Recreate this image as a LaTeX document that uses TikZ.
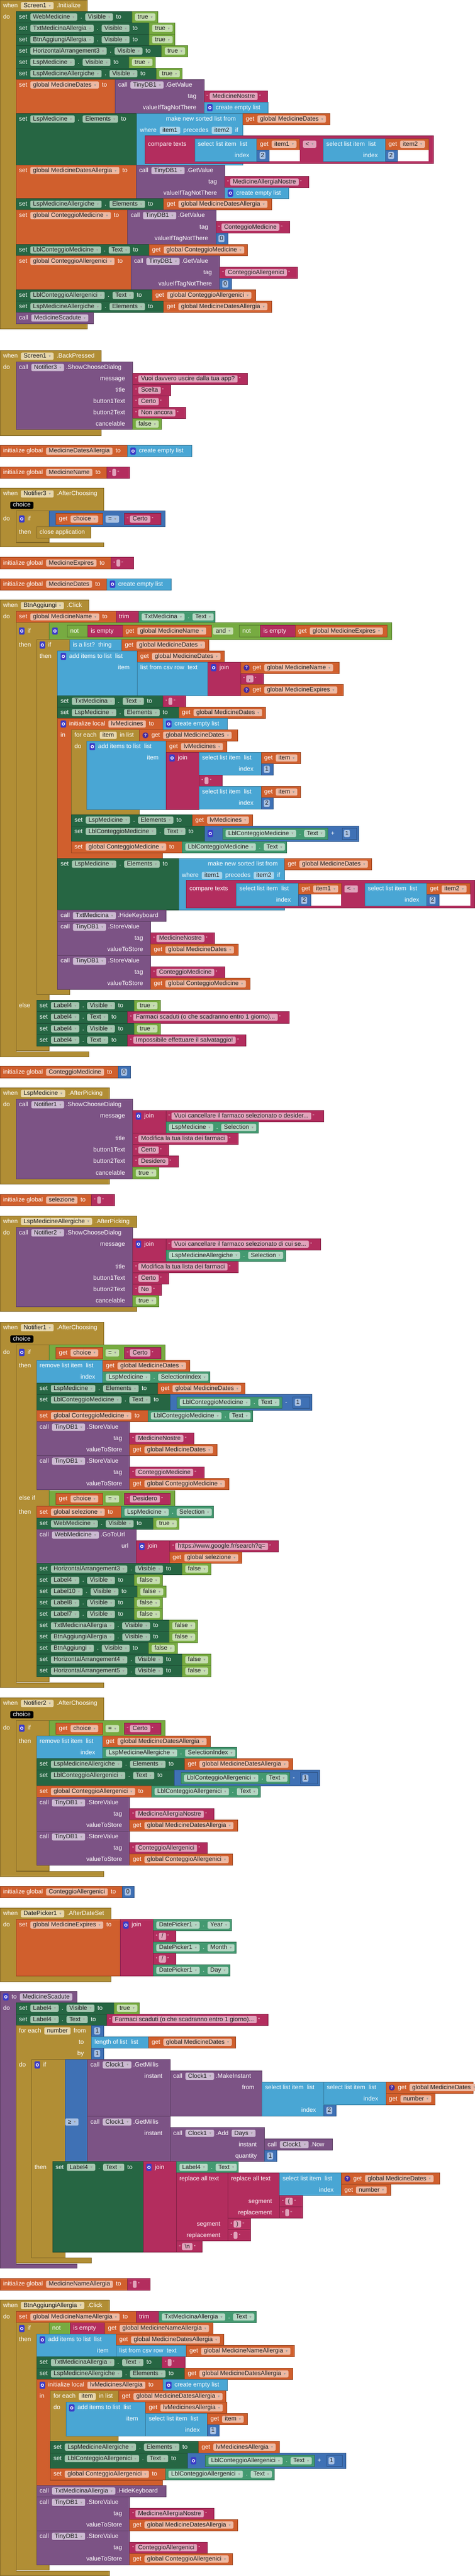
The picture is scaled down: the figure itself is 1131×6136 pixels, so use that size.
\documentclass[tikz,border=0pt]{standalone}
\usepackage{fontspec}
\setmainfont{Liberation Sans}
\newfontfamily\dv{DejaVu Sans}
\definecolor{cE}{HTML}{B18E35}
\definecolor{cEf}{HTML}{E6D6AC}
\definecolor{cS}{HTML}{266643}
\definecolor{cSf}{HTML}{A4C5AF}
\definecolor{cC}{HTML}{439970}
\definecolor{cCf}{HTML}{B4D6C3}
\definecolor{cL}{HTML}{77AB41}
\definecolor{cLf}{HTML}{C6DEB0}
\definecolor{cV}{HTML}{D05F2D}
\definecolor{cVf}{HTML}{EDB9A3}
\definecolor{cP}{HTML}{7C5385}
\definecolor{cPf}{HTML}{CBB9D1}
\definecolor{cT}{HTML}{B32D5E}
\definecolor{cTf}{HTML}{E0A3BB}
\definecolor{cLi}{HTML}{49A6D4}
\definecolor{cLif}{HTML}{A6D3EA}
\definecolor{cM}{HTML}{3F71B5}
\definecolor{cMf}{HTML}{A8C0E2}
\definecolor{cGear}{HTML}{3C3CC8}
\definecolor{cQ}{HTML}{4A2C9C}
\newcommand\bfont{\fontsize{14.6}{17}\selectfont}
\newcommand\qfont{\fontsize{11}{11}\selectfont}
\newcommand\zdd{{\dv\fontsize{6}{6}\selectfont\raisebox{1.5pt}{\textcolor{black!40}{▼}}}}
\tikzset{
 tx/.style={anchor=west,inner sep=0pt,text height=10.5pt,text depth=2.5pt,text=white,font=\bfont},
 fd/.style={anchor=west,inner xsep=6.5pt,inner ysep=2pt,text height=10.5pt,text depth=2.5pt,rounded corners=3pt,text=black!88,font=\bfont},
 gear/.style={anchor=west,fill=cGear,rounded corners=2pt,minimum width=13pt,minimum height=17pt,inner sep=0pt,
   path picture={\draw[white,line width=1.6pt] (path picture bounding box.center) circle (3pt);}},
 qmark/.style={anchor=west,circle,fill=cQ,text=white,inner sep=0pt,minimum size=14pt,font=\fontsize{10}{10}\selectfont\bfseries},
}
\newcommand\zB[5]{\path[fill=#1,draw=#1!72!black,line width=0.8pt] (#2,#3) rectangle (#4,#5);}
\newcommand\zC[9]{\path[fill=#1,draw=#1!72!black,line width=0.8pt] (#2,#3) -- (#4,#3) -- (#4,#5) -- (#6,#5) -- (#6,#7) -- (#8,#7) -- (#8,#9) -- (#2,#9) -- cycle;}
\newcommand\zS[2]{\node[inner sep=0pt,minimum size=0pt] (last) at (#1,#2) {};}
\newcommand\zT[1]{\node[tx] (last) at ([xshift=7pt]last.east) {#1};}
\newcommand\zF[2]{\node[fd,fill=#1] (last) at ([xshift=7pt]last.east) {#2\hspace{6pt}\zdd};}
\newcommand\zP[2]{\node[fd,fill=#1] (last) at ([xshift=7pt]last.east) {#2};}
\newcommand\zQ[1]{\node[tx,font=\qfont] (last) at ([xshift=6pt]last.east) {“};\node[fd,fill=cTf] (last) at ([xshift=3pt]last.east) {#1};\node[tx,font=\qfont] (last) at ([xshift=3pt]last.east) {”};}
\newcommand\zE{\node[tx,font=\qfont] (last) at ([xshift=6pt]last.east) {“};\node[fd,fill=cTf,minimum width=9pt,inner xsep=0pt] (last) at ([xshift=3pt]last.east) {};\node[tx,font=\qfont] (last) at ([xshift=3pt]last.east) {”};}
\newcommand\zG{\node[gear] (last) at ([xshift=7pt]last.east) {};}
\newcommand\zM{\node[qmark] (last) at ([xshift=7pt]last.east) {?};}
\newcommand\zR[3]{\node[tx,anchor=east] (lbl) at (#1,#2) {#3};}
\newcommand\zChoice{\node[fd,fill=black,text=white] (last) at ([xshift=7pt]last.east) {choice};}
\newcommand\zSetP[4]{\zS{#1}{#2}\zT{set}\zF{cSf}{#3}\zT{.}\zF{cSf}{#4}\zT{to}}
\newcommand\zSetG[3]{\zS{#1}{#2}\zT{set}\zF{cVf}{#3}\zT{to}}
\newcommand\zGet[3]{\zS{#1}{#2}\zT{get}\zF{cVf}{#3}}
\newcommand\zCmp[4]{\zS{#1}{#2}\zF{cCf}{#3}\zT{.}\zF{cCf}{#4}}
\newcommand\zBool[3]{\zS{#1}{#2}\zF{cLf}{#3}}
\newcommand\zStr[3]{\zS{#1}{#2}\zQ{#3}}
\newcommand\zStrE[2]{\zS{#1}{#2}\zE}
\newcommand\zNum[3]{\zS{#1}{#2}\node[fd,fill=cMf,inner xsep=3pt] (last) at ([xshift=6pt]last.east) {#3};}
\newcommand\zCall[4]{\zS{#1}{#2}\zT{call}\zF{cPf}{#3}\node[tx] (last) at ([xshift=4pt]last.east) {#4};}
\newcommand\zVis[6]{\zB{cS}{#1}{#2}{#4}{#2+27}\zB{cL}{#4}{#2}{#5}{#2+27}\zSetP{#1}{#2+13.5}{#3}{Visible}\zBool{#4}{#2+13.5}{#6}}
\newcommand\zStore[6]{%
 \zB{cP}{#1}{#2}{#1+222}{#2+81}%
 \zB{cT}{#1+222}{#2+27}{#4}{#2+54}%
 \zB{cV}{#1+222}{#2+54}{#6}{#2+81}%
 \zCall{#1}{#2+13.5}{TinyDB1}{.StoreValue}%
 \zR{#1+204}{#2+40.5}{tag}\zR{#1+204}{#2+67.5}{valueToStore}%
 \zStr{#1+222}{#2+40.5}{#3}%
 \zGet{#1+222}{#2+67.5}{#5}}
\newcommand\zCmpT[2]{%
 \zB{cT}{#1}{#2}{#1+687}{#2+66}%
 \zB{cLi}{#1+119}{#2+7}{#1+267}{#2+61}%
 \zB{cV}{#1+267}{#2+7}{#1+369}{#2+34}%
 \fill[white] (#1+296,#2+34) rectangle (#1+369,#2+61);%
 \zB{cM}{#1+267}{#2+34}{#1+296}{#2+61}%
 \zB{cLi}{#1+425}{#2+7}{#1+573}{#2+61}%
 \zB{cV}{#1+573}{#2+7}{#1+676}{#2+34}%
 \fill[white] (#1+602,#2+34) rectangle (#1+676,#2+61);%
 \zB{cM}{#1+573}{#2+34}{#1+602}{#2+61}%
 \zS{#1}{#2+20.5}\zT{compare texts}%
 \zS{#1+119}{#2+20.5}\zT{select list item\ \ list}%
 \zGet{#1+267}{#2+20.5}{item1}%
 \zS{#1+369}{#2+20.5}\zF{cTf}{<}%
 \zS{#1+425}{#2+20.5}\zT{select list item\ \ list}%
 \zGet{#1+573}{#2+20.5}{item2}%
 \zR{#1+249}{#2+47.5}{index}\zNum{#1+267}{#2+47.5}{2}%
 \zR{#1+555}{#2+47.5}{index}\zNum{#1+573}{#2+47.5}{2}}
\newcommand\zEq[4]{%
 \zB{cL}{117}{#1}{#4}{#1+37}%
 \zB{cV}{133}{#1+6}{244}{#1+33}\zGet{133}{#1+19.5}{choice}%
 \zS{244}{#1+19.5}\zF{cLf}{=}%
 \zB{cT}{296}{#1+6}{#3}{#1+33}\zStr{296}{#1+19.5}{#2}}
\begin{document}
\begin{tikzpicture}[x=1pt,y=-1pt]
\fill[white] (0,0) rectangle (1131,6136);
\useasboundingbox (0,0) rectangle (1131,6136);
% ===== Screen1.Initialize =====
\zC{cE}{0}{0}{208}{27}{38}{771}{208}{783}
\zS{0}{13.5}\zT{when}\zF{cEf}{Screen1}\zT{.Initialize}
\zS{0}{40.5}\zT{do}
\zVis{38}{27}{WebMedicine}{314}{376}{true}
\zVis{38}{54}{TxtMedicinaAllergia}{355}{416}{true}
\zVis{38}{81}{BtnAggiungiAllergia}{355}{416}{true}
\zVis{38}{108}{HorizontalArrangement3}{385}{447}{true}
\zVis{38}{135}{LspMedicine}{307}{370}{true}
\zVis{38}{162}{LspMedicineAllergiche}{372}{434}{true}
\zB{cV}{38}{189}{274}{270}\zB{cP}{274}{189}{486}{270}
\zB{cT}{486}{216}{637}{243}\zB{cLi}{486}{243}{639}{270}
\zSetG{38}{202.5}{global MedicineDates}
\zCall{274}{202.5}{TinyDB1}{.GetValue}
\zR{468}{229.5}{tag}\zR{468}{256.5}{valueIfTagNotThere}
\zStr{486}{229.5}{MedicineNostre}
\zS{486}{256.5}\zG\zT{create empty list}
\zB{cS}{38}{270}{326}{393}\zB{cLi}{326}{270}{578}{393}\zB{cV}{578}{270}{786}{297}
\zSetP{38}{283.5}{LspMedicine}{Elements}
\zR{562}{283.5}{make new sorted list from}
\zGet{578}{283.5}{global MedicineDates}
\zS{326}{310.5}\zT{where}\zP{cLif}{item1}\zT{precedes}\zP{cLif}{item2}\zT{if}
\zCmpT{345}{323}
\zB{cV}{38}{393}{324}{473}\zB{cP}{324}{393}{535}{473}
\zB{cT}{535}{420}{736}{447}\zB{cLi}{535}{447}{688}{473}
\zSetG{38}{406.5}{global MedicineDatesAllergia}
\zCall{324}{406.5}{TinyDB1}{.GetValue}
\zR{517}{433.5}{tag}\zR{517}{460}{valueIfTagNotThere}
\zStr{535}{433.5}{MedicineAllergiaNostre}
\zS{535}{460}\zG\zT{create empty list}
\zB{cS}{38}{473}{390}{500}\zB{cV}{390}{473}{647}{500}
\zSetP{38}{486.5}{LspMedicineAllergiche}{Elements}\zGet{390}{486.5}{global MedicineDatesAllergia}
\zB{cV}{38}{500}{304}{582}\zB{cP}{304}{500}{514}{582}
\zB{cT}{514}{527}{690}{555}\zB{cM}{514}{555}{543}{582}
\zSetG{38}{513.5}{global ConteggioMedicine}
\zCall{304}{513.5}{TinyDB1}{.GetValue}
\zR{496}{541}{tag}\zR{496}{568.5}{valueIfTagNotThere}
\zStr{514}{541}{ConteggioMedicine}\zNum{514}{568.5}{0}
\zB{cS}{38}{582}{355}{609}\zB{cV}{355}{582}{590}{609}
\zSetP{38}{595.5}{LblConteggioMedicine}{Text}\zGet{355}{595.5}{global ConteggioMedicine}
\zB{cV}{38}{609}{312}{690}\zB{cP}{312}{609}{523}{690}
\zB{cT}{523}{636}{708}{663}\zB{cM}{523}{663}{552}{690}
\zSetG{38}{622.5}{global ConteggioAllergenici}
\zCall{312}{622.5}{TinyDB1}{.GetValue}
\zR{505}{649.5}{tag}\zR{505}{676.5}{valueIfTagNotThere}
\zStr{523}{649.5}{ConteggioAllergenici}\zNum{523}{676.5}{0}
\zB{cS}{38}{690}{363}{717}\zB{cV}{363}{690}{609}{717}
\zSetP{38}{703.5}{LblConteggioAllergenici}{Text}\zGet{363}{703.5}{global ConteggioAllergenici}
\zB{cS}{38}{717}{390}{744}\zB{cV}{390}{717}{647}{744}
\zSetP{38}{730.5}{LspMedicineAllergiche}{Elements}\zGet{390}{730.5}{global MedicineDatesAllergia}
\zB{cP}{38}{744}{223}{771}
\zS{38}{757.5}\zT{call}\zF{cPf}{MedicineScadute}
% ===== Screen1.BackPressed =====
\zC{cE}{0}{835}{241}{862}{38}{1023}{241}{1037}
\zS{0}{848.5}\zT{when}\zF{cEf}{Screen1}\zT{.BackPressed}
\zS{0}{875.5}\zT{do}
\zB{cP}{38}{862}{316}{1023}
\zCall{38}{875.5}{Notifier3}{.ShowChooseDialog}
\zR{298}{902.5}{message}\zR{298}{929.5}{title}\zR{298}{956.5}{button1Text}\zR{298}{983.5}{button2Text}\zR{298}{1010}{cancelable}
\zB{cT}{316}{889}{590}{916}\zStr{316}{902.5}{Vuoi davvero uscire dalla tua app?}
\zB{cT}{316}{916}{407}{943}\zStr{316}{929.5}{Scelta}
\zB{cT}{316}{943}{402}{970}\zStr{316}{956.5}{Certo}
\zB{cT}{316}{970}{442}{997}\zStr{316}{983.5}{Non ancora}
\zB{cL}{316}{997}{384}{1023}\zBool{316}{1010}{false}
% ===== globals =====
\zB{cV}{0}{1061}{303}{1088}\zB{cLi}{303}{1061}{457}{1088}
\zS{0}{1074.5}\zT{initialize global}\zP{cVf}{MedicineDatesAllergia}\zT{to}
\zS{303}{1074.5}\zG\zT{create empty list}
\zB{cV}{0}{1112}{254}{1139}\zB{cT}{254}{1112}{309}{1139}
\zS{0}{1125.5}\zT{initialize global}\zP{cVf}{MedicineName}\zT{to}\zStrE{254}{1125.5}
% ===== Notifier3.AfterChoosing =====
\zC{cE}{0}{1163}{247}{1217}{38}{1293}{247}{1303}
\zS{0}{1176.5}\zT{when}\zF{cEf}{Notifier3}\zT{.AfterChoosing}
\zS{17}{1203.5}\zChoice
\zS{0}{1236}\zT{do}
\zB{cE}{38}{1217}{117}{1291}
\zS{38}{1236}\zG\zT{if}
\zB{cM}{117}{1217}{393}{1255}
\zB{cV}{133}{1223}{244}{1250}\zGet{133}{1236.5}{choice}
\zS{244}{1236.5}\zF{cMf}{=}
\zB{cT}{296}{1223}{383}{1250}\zStr{296}{1236.5}{Certo}
\zS{38}{1268.5}\zT{then}
\zB{cE}{87}{1255}{216}{1282}\zS{87}{1268.5}\zT{close application}
\zB{cV}{0}{1327}{264}{1355}\zB{cT}{264}{1327}{318}{1355}
\zS{0}{1341}\zT{initialize global}\zP{cVf}{MedicineExpires}\zT{to}\zStrE{264}{1341}
\zB{cV}{0}{1378}{254}{1405}\zB{cLi}{254}{1378}{408}{1405}
\zS{0}{1391.5}\zT{initialize global}\zP{cVf}{MedicineDates}\zT{to}\zS{254}{1391.5}\zG\zT{create empty list}
% ===== BtnAggiungi.Click =====
\zC{cE}{0}{1429}{211}{1456}{38}{2505}{211}{2517}
\zS{0}{1442.5}\zT{when}\zF{cEf}{BtnAggiungi}\zT{.Click}
\zS{0}{1469.5}\zT{do}
\zB{cV}{38}{1456}{276}{1483}\zB{cT}{276}{1456}{330}{1483}\zB{cC}{330}{1456}{512}{1483}
\zSetG{38}{1469.5}{global MedicineName}\zS{276}{1469.5}\zT{trim}\zCmp{330}{1469.5}{TxtMedicina}{Text}
\zB{cE}{38}{1483}{117}{2503}
\zS{38}{1503}\zG\zT{if}
\zB{cL}{117}{1483}{933}{1523}
\zS{117}{1503}\zG
\zB{cL}{160}{1489}{209}{1517}\zS{160}{1503}\zT{not}
\zB{cT}{209}{1489}{292}{1517}\zS{209}{1503}\zT{is empty}
\zB{cV}{292}{1489}{503}{1517}\zGet{292}{1503}{global MedicineName}
\zS{500}{1503}\zF{cLf}{and}
\zB{cL}{570}{1489}{620}{1517}\zS{570}{1503}\zT{not}
\zB{cT}{620}{1489}{703}{1517}\zS{620}{1503}\zT{is empty}
\zB{cV}{703}{1489}{922}{1517}\zGet{703}{1503}{global MedicineExpires}
\zS{38}{1536.5}\zT{then}
\zB{cE}{87}{1523}{166}{2369}
\zS{87}{1536.5}\zG\zT{if}
\zB{cLi}{166}{1523}{290}{1550}\zS{166}{1536.5}\zT{is a list?\ \ thing}
\zB{cV}{290}{1523}{497}{1550}\zGet{290}{1536.5}{global MedicineDates}
\zS{87}{1563.5}\zT{then}
\zB{cLi}{137}{1550}{327}{1657}
\zS{137}{1563.5}\zG\zT{add items to list\ \ list}
\zB{cV}{327}{1550}{534}{1577}\zGet{327}{1563.5}{global MedicineDates}
\zR{309}{1590.5}{item}
\zB{cLi}{327}{1577}{495}{1657}\zS{327}{1590.5}\zT{list from csv row\ \ text}
\zB{cT}{495}{1577}{573}{1657}\zS{495}{1590.5}\zG\zT{join}
\zB{cV}{573}{1577}{808}{1604}\zS{573}{1590.5}\zM\zT{get}\zF{cVf}{global MedicineName}
\zB{cT}{573}{1604}{627}{1630}\zStr{573}{1617}{,}
\zB{cV}{573}{1630}{818}{1657}\zS{573}{1643.5}\zM\zT{get}\zF{cVf}{global MedicineExpires}
\zB{cS}{137}{1657}{388}{1684}\zB{cT}{388}{1657}{442}{1684}
\zSetP{137}{1670.5}{TxtMedicina}{Text}\zStrE{388}{1670.5}
\zB{cS}{137}{1684}{426}{1711}\zB{cV}{426}{1684}{633}{1711}
\zSetP{137}{1697.5}{LspMedicine}{Elements}\zGet{426}{1697.5}{global MedicineDates}
\zC{cV}{137}{1711}{388}{1738}{170}{2031}{387}{2045}
\zB{cLi}{388}{1711}{542}{1738}
\zS{137}{1724.5}\zG\zT{initialize local}\zP{cVf}{lvMedicines}\zT{to}
\zS{388}{1724.5}\zG\zT{create empty list}
\zS{137}{1751.5}\zT{in}
\zC{cE}{170}{1738}{332}{1765}{206}{1928}{332}{1940}
\zS{170}{1751.5}\zT{for each}\zP{cEf}{item}\zT{in list}
\zB{cV}{332}{1738}{566}{1765}\zS{332}{1751.5}\zM\zT{get}\zF{cVf}{global MedicineDates}
\zS{170}{1778.5}\zT{do}
\zB{cLi}{206}{1765}{396}{1928}
\zS{206}{1778.5}\zG\zT{add items to list\ \ list}
\zB{cV}{396}{1765}{540}{1792}\zGet{396}{1778.5}{lvMedicines}
\zR{378}{1805.5}{item}
\zB{cT}{396}{1792}{474}{1928}\zS{396}{1805.5}\zG\zT{join}
\zB{cLi}{474}{1792}{622}{1846}\zS{474}{1805.5}\zT{select list item\ \ list}
\zB{cV}{622}{1792}{716}{1819}\zGet{622}{1805.5}{item}
\zR{604}{1832.5}{index}\zB{cM}{622}{1819}{651}{1846}\zNum{622}{1832.5}{1}
\zB{cT}{474}{1846}{529}{1873}\zStrE{474}{1859.5}
\zB{cLi}{474}{1873}{622}{1927}\zS{474}{1886.5}\zT{select list item\ \ list}
\zB{cV}{622}{1873}{716}{1900}\zGet{622}{1886.5}{item}
\zR{604}{1913.5}{index}\zB{cM}{622}{1900}{651}{1927}\zNum{622}{1913.5}{2}
\zB{cS}{170}{1940}{458}{1967}\zB{cV}{458}{1940}{602}{1967}
\zSetP{170}{1953.5}{LspMedicine}{Elements}\zGet{458}{1953.5}{lvMedicines}
\zB{cS}{170}{1967}{487}{2004}\zB{cM}{487}{1967}{855}{2004}
\zSetP{170}{1980.5}{LblConteggioMedicine}{Text}
\zS{487}{1985.5}\zG
\zB{cC}{530}{1972}{781}{1999}\zCmp{530}{1985.5}{LblConteggioMedicine}{Text}
\zS{781}{1985.5}\zT{+}
\zB{cM}{815}{1972}{850}{1999}\zNum{813}{1985.5}{1}
\zB{cV}{170}{2004}{434}{2031}\zB{cC}{434}{2004}{683}{2031}
\zSetG{170}{2017.5}{global ConteggioMedicine}\zCmp{434}{2017.5}{LblConteggioMedicine}{Text}
\zB{cS}{137}{2045}{426}{2167}\zB{cLi}{426}{2045}{678}{2167}\zB{cV}{678}{2045}{885}{2072}
\zSetP{137}{2058.5}{LspMedicine}{Elements}
\zR{662}{2058.5}{make new sorted list from}
\zGet{678}{2058.5}{global MedicineDates}
\zS{426}{2085.5}\zT{where}\zP{cLif}{item1}\zT{precedes}\zP{cLif}{item2}\zT{if}
\zCmpT{444}{2097}
\zB{cP}{137}{2167}{395}{2195}\zS{137}{2181}\zT{call}\zF{cPf}{TxtMedicina}\node[tx] (last) at ([xshift=4pt]last.east) {.HideKeyboard};
\zStore{137}{2195}{MedicineNostre}{511}{global MedicineDates}{567}
\zStore{137}{2276}{ConteggioMedicine}{535}{global ConteggioMedicine}{595}
\zS{38}{2395.5}\zT{else}
\zVis{87}{2382}{Label4}{319}{382}{true}
\zB{cS}{87}{2409}{304}{2437}\zB{cT}{304}{2409}{689}{2437}
\zSetP{87}{2423}{Label4}{Text}\zStr{304}{2423}{Farmaci scaduti (o che scadranno entro 1 giorno)...}
\zVis{87}{2437}{Label4}{319}{382}{true}
\zB{cS}{87}{2464}{304}{2491}\zB{cT}{304}{2464}{586}{2491}
\zSetP{87}{2477.5}{Label4}{Text}\zStr{304}{2477.5}{Impossibile effettuare il salvataggio!}
\zB{cV}{0}{2540}{282}{2568}\zB{cM}{282}{2540}{311}{2568}
\zS{0}{2554}\zT{initialize global}\zP{cVf}{ConteggioMedicine}\zT{to}\zNum{282}{2554}{0}
% ===== LspMedicine.AfterPicking =====
\zC{cE}{0}{2591}{260}{2618}{38}{2808}{260}{2821}
\zS{0}{2604.5}\zT{when}\zF{cEf}{LspMedicine}\zT{.AfterPicking}
\zS{0}{2631.5}\zT{do}
\zB{cP}{38}{2618}{316}{2808}
\zCall{38}{2631.5}{Notifier1}{.ShowChooseDialog}
\zR{298}{2658.5}{message}\zR{298}{2712.5}{title}\zR{298}{2739.5}{button1Text}\zR{298}{2766.5}{button2Text}\zR{298}{2794}{cancelable}
\zB{cT}{316}{2645}{395}{2699}\zS{316}{2658.5}\zG\zT{join}
\zB{cT}{395}{2645}{771}{2672}\zStr{395}{2658.5}{Vuoi cancellare il farmaco selezionato o desider...}
\zB{cC}{395}{2672}{615}{2699}\zCmp{395}{2685.5}{LspMedicine}{Selection}
\zB{cT}{316}{2699}{567}{2726}\zStr{316}{2712.5}{Modifica la tua lista dei farmaci}
\zB{cT}{316}{2726}{402}{2753}\zStr{316}{2739.5}{Certo}
\zB{cT}{316}{2753}{425}{2780}\zStr{316}{2766.5}{Desidero}
\zB{cL}{316}{2780}{378}{2808}\zBool{316}{2794}{true}
\zB{cV}{0}{2845}{218}{2872}\zB{cT}{218}{2845}{273}{2872}
\zS{0}{2858.5}\zT{initialize global}\zP{cVf}{selezione}\zT{to}\zStrE{218}{2858.5}
% ===== LspMedicineAllergiche.AfterPicking =====
\zC{cE}{0}{2896}{325}{2923}{38}{3112}{325}{3124}
\zS{0}{2909.5}\zT{when}\zF{cEf}{LspMedicineAllergiche}\zT{.AfterPicking}
\zS{0}{2936.5}\zT{do}
\zB{cP}{38}{2923}{316}{3112}
\zCall{38}{2936.5}{Notifier2}{.ShowChooseDialog}
\zR{298}{2963.5}{message}\zR{298}{3017.5}{title}\zR{298}{3044.5}{button1Text}\zR{298}{3071.5}{button2Text}\zR{298}{3098.5}{cancelable}
\zB{cT}{316}{2950}{395}{3004}\zS{316}{2963.5}\zG\zT{join}
\zB{cT}{395}{2950}{764}{2977}\zStr{395}{2963.5}{Vuoi cancellare il farmaco selezionato di cui se...}
\zB{cC}{395}{2977}{680}{3004}\zCmp{395}{2990.5}{LspMedicineAllergiche}{Selection}
\zB{cT}{316}{3004}{567}{3031}\zStr{316}{3017.5}{Modifica la tua lista dei farmaci}
\zB{cT}{316}{3031}{402}{3058}\zStr{316}{3044.5}{Certo}
\zB{cT}{316}{3058}{385}{3085}\zStr{316}{3071.5}{No}
\zB{cL}{316}{3085}{378}{3112}\zBool{316}{3098.5}{true}
% ===== Notifier1.AfterChoosing =====
\zC{cE}{0}{3149}{247}{3203}{38}{4008}{247}{4020}
\zS{0}{3162.5}\zT{when}\zF{cEf}{Notifier1}\zT{.AfterChoosing}
\zS{17}{3189.5}\zChoice
\zS{0}{3221.5}\zT{do}
\zB{cE}{38}{3203}{117}{4006}
\zS{38}{3221.5}\zG\zT{if}
\zEq{3203}{Certo}{383}{393}
\zS{38}{3253.5}\zT{then}
\zB{cLi}{87}{3240}{245}{3294}\zS{87}{3253.5}\zT{remove list item\ \ list}\zR{227}{3280.5}{index}
\zB{cV}{245}{3240}{452}{3267}\zGet{245}{3253.5}{global MedicineDates}
\zB{cC}{245}{3267}{500}{3294}\zCmp{245}{3280.5}{LspMedicine}{SelectionIndex}
\zB{cS}{87}{3294}{376}{3321}\zB{cV}{376}{3294}{583}{3321}
\zSetP{87}{3307.5}{LspMedicine}{Elements}\zGet{376}{3307.5}{global MedicineDates}
\zB{cS}{87}{3321}{405}{3359}\zB{cM}{405}{3321}{743}{3359}
\zSetP{87}{3334.5}{LblConteggioMedicine}{Text}
\zB{cC}{421}{3327}{672}{3354}\zCmp{421}{3340.5}{LblConteggioMedicine}{Text}
\zS{672}{3340.5}\zT{-}
\zB{cM}{698}{3327}{738}{3354}\zNum{696}{3340.5}{1}
\zB{cV}{87}{3359}{352}{3386}\zB{cC}{352}{3359}{602}{3386}
\zSetG{87}{3372.5}{global ConteggioMedicine}\zCmp{352}{3372.5}{LblConteggioMedicine}{Text}
\zStore{87}{3386}{MedicineNostre}{462}{global MedicineDates}{517}
\zStore{87}{3467}{ConteggioMedicine}{486}{global ConteggioMedicine}{545}
\zS{38}{3569.5}\zT{else if}
\zEq{3551}{Desidero}{405}{416}
\zS{38}{3601.5}\zT{then}
\zB{cV}{87}{3588}{289}{3616}\zB{cC}{289}{3588}{509}{3616}
\zSetG{87}{3602}{global selezione}\zCmp{289}{3602}{LspMedicine}{Selection}
\zVis{87}{3616}{WebMedicine}{365}{426}{true}
\zB{cP}{87}{3643}{324}{3724}
\zCall{87}{3656.5}{WebMedicine}{.GoToUrl}\zR{306}{3683.5}{url}
\zB{cT}{324}{3670}{404}{3724}\zS{324}{3683.5}\zG\zT{join}
\zB{cT}{404}{3670}{663}{3697}\zStr{404}{3683.5}{https://www.google.fr/search?q=}
\zB{cV}{404}{3697}{576}{3724}\zGet{404}{3710.5}{global selezione}
\zVis{87}{3724}{HorizontalArrangement3}{434}{502}{false}
\zVis{87}{3751}{Label4}{319}{387}{false}
\zVis{87}{3778}{Label10}{327}{395}{false}
\zVis{87}{3805}{Label8}{319}{387}{false}
\zVis{87}{3832}{Label7}{319}{387}{false}
\zVis{87}{3859}{TxtMedicinaAllergia}{403}{471}{false}
\zVis{87}{3886}{BtnAggiungiAllergia}{403}{471}{false}
\zVis{87}{3913}{BtnAggiungi}{354}{422}{false}
\zVis{87}{3940}{HorizontalArrangement4}{434}{502}{false}
\zVis{87}{3967}{HorizontalArrangement5}{434}{502}{false}
% ===== Notifier2.AfterChoosing =====
\zC{cE}{0}{4044}{247}{4098}{38}{4458}{247}{4470}
\zS{0}{4057.5}\zT{when}\zF{cEf}{Notifier2}\zT{.AfterChoosing}
\zS{17}{4084.5}\zChoice
\zS{0}{4116.5}\zT{do}
\zB{cE}{38}{4098}{117}{4456}
\zS{38}{4116.5}\zG\zT{if}
\zEq{4098}{Certo}{383}{393}
\zS{38}{4148.5}\zT{then}
\zB{cLi}{87}{4135}{245}{4189}\zS{87}{4148.5}\zT{remove list item\ \ list}\zR{227}{4175.5}{index}
\zB{cV}{245}{4135}{501}{4162}\zGet{245}{4148.5}{global MedicineDatesAllergia}
\zB{cC}{245}{4162}{564}{4189}\zCmp{245}{4175.5}{LspMedicineAllergiche}{SelectionIndex}
\zB{cS}{87}{4189}{440}{4216}\zB{cV}{440}{4189}{697}{4216}
\zSetP{87}{4202.5}{LspMedicineAllergiche}{Elements}\zGet{440}{4202.5}{global MedicineDatesAllergia}
\zB{cS}{87}{4216}{415}{4254}\zB{cM}{415}{4216}{761}{4254}
\zSetP{87}{4229.5}{LblConteggioAllergenici}{Text}
\zB{cC}{431}{4222}{690}{4249}\zCmp{431}{4235.5}{LblConteggioAllergenici}{Text}
\zS{690}{4235.5}\zT{-}
\zB{cM}{716}{4222}{756}{4249}\zNum{714}{4235.5}{1}
\zB{cV}{87}{4254}{361}{4281}\zB{cC}{361}{4254}{620}{4281}
\zSetG{87}{4267.5}{global ConteggioAllergenici}\zCmp{361}{4267.5}{LblConteggioAllergenici}{Text}
\zStore{87}{4281}{MedicineAllergiaNostre}{510}{global MedicineDatesAllergia}{566}
\zStore{87}{4362}{ConteggioAllergenici}{494}{global ConteggioAllergenici}{554}
\zB{cV}{0}{4493}{291}{4520}\zB{cM}{291}{4493}{320}{4520}
\zS{0}{4506.5}\zT{initialize global}\zP{cVf}{ConteggioAllergenici}\zT{to}\zNum{291}{4506.5}{0}
% ===== DatePicker1.AfterDateSet =====
\zC{cE}{0}{4545}{264}{4572}{38}{4707}{264}{4720}
\zS{0}{4558.5}\zT{when}\zF{cEf}{DatePicker1}\zT{.AfterDateSet}
\zS{0}{4585.5}\zT{do}
\zB{cV}{38}{4572}{286}{4707}\zSetG{38}{4585.5}{global MedicineExpires}
\zB{cT}{286}{4572}{365}{4707}\zS{286}{4585.5}\zG\zT{join}
\zB{cC}{365}{4572}{551}{4599}\zCmp{365}{4585.5}{DatePicker1}{Year}
\zB{cT}{365}{4599}{419}{4626}\zStr{365}{4612.5}{/}
\zB{cC}{365}{4626}{562}{4653}\zCmp{365}{4639.5}{DatePicker1}{Month}
\zB{cT}{365}{4653}{419}{4680}\zStr{365}{4666.5}{/}
\zB{cC}{365}{4680}{548}{4707}\zCmp{365}{4693.5}{DatePicker1}{Day}
% ===== to MedicineScadute =====
\zC{cP}{0}{4743}{183}{4770}{38}{5393}{183}{5403}
\zS{0}{4756.5}\zG\zT{to}\zP{cPf}{MedicineScadute}
\zS{0}{4783.5}\zT{do}
\zVis{38}{4770}{Label4}{271}{332}{true}
\zB{cS}{38}{4797}{254}{4824}\zB{cT}{254}{4797}{639}{4824}
\zSetP{38}{4810.5}{Label4}{Text}\zStr{254}{4810.5}{Farmaci scaduti (o che scadranno entro 1 giorno)...}
\zC{cE}{38}{4824}{218}{4905}{75}{5378}{218}{5390}
\zS{38}{4837.5}\zT{for each}\zP{cEf}{number}\zT{from}
\zB{cM}{218}{4824}{247}{4851}\zNum{218}{4837.5}{1}
\zR{200}{4864.5}{to}
\zB{cLi}{218}{4851}{354}{4878}\zS{218}{4864.5}\zT{length of list\ \ list}
\zB{cV}{354}{4851}{561}{4878}\zGet{354}{4864.5}{global MedicineDates}
\zR{200}{4891.5}{by}
\zB{cM}{218}{4878}{247}{4905}\zNum{218}{4891.5}{1}
\zS{38}{4918.5}\zT{do}
\zB{cE}{75}{4905}{155}{5378}
\zS{75}{4918.5}\zG\zT{if}
\zB{cM}{155}{4905}{208}{5149}
\zS{148}{5054.5}\zF{cMf}{≥}
\zB{cP}{208}{4905}{405}{5041}
\zS{208}{4918.5}\zT{call}\zF{cPf}{Clock1}\node[tx] (last) at ([xshift=4pt]last.east) {.GetMillis};
\zR{387}{4945.5}{instant}
\zB{cP}{405}{4932}{624}{5041}
\zS{405}{4945.5}\zT{call}\zF{cPf}{Clock1}\node[tx] (last) at ([xshift=4pt]last.east) {.MakeInstant};
\zR{606}{4972.5}{from}
\zB{cLi}{624}{4959}{771}{5041}\zS{624}{4972.5}\zT{select list item\ \ list}\zR{753}{5027}{index}
\zB{cM}{771}{5013}{800}{5041}\zNum{771}{5027}{2}
\zB{cLi}{771}{4959}{919}{5013}\zS{771}{4972.5}\zT{select list item\ \ list}\zR{901}{4999.5}{index}
\zB{cV}{919}{4959}{1127}{4986}\zS{919}{4972.5}\zM\zT{get}\zF{cVf}{global MedicineDates}
\zB{cV}{919}{4986}{1036}{5013}\zGet{919}{4999.5}{number}
\zB{cP}{208}{5041}{405}{5149}
\zS{208}{5054.5}\zT{call}\zF{cPf}{Clock1}\node[tx] (last) at ([xshift=4pt]last.east) {.GetMillis};
\zR{387}{5081.5}{instant}
\zB{cP}{405}{5068}{630}{5149}
\zS{405}{5081.5}\zT{call}\zF{cPf}{Clock1}\node[tx] (last) at ([xshift=4pt]last.east) {.Add};\zF{cPf}{Days}
\zR{612}{5108.5}{instant}\zR{612}{5135.5}{quantity}
\zB{cP}{630}{5095}{792}{5122}\zS{630}{5108.5}\zT{call}\zF{cPf}{Clock1}\node[tx] (last) at ([xshift=4pt]last.east) {.Now};
\zB{cM}{630}{5122}{659}{5149}\zNum{630}{5135.5}{1}
\zS{75}{5162.5}\zT{then}
\zB{cS}{125}{5149}{341}{5365}
\zSetP{125}{5162.5}{Label4}{Text}
\zB{cT}{341}{5149}{420}{5365}\zS{341}{5162.5}\zG\zT{join}
\zB{cC}{420}{5149}{567}{5176}\zCmp{420}{5162.5}{Label4}{Text}
\zB{cT}{420}{5176}{543}{5338}\zS{420}{5189.5}\zT{replace all text}
\zR{525}{5297.5}{segment}\zR{525}{5324.5}{replacement}
\zB{cT}{543}{5176}{666}{5284}\zS{543}{5189.5}\zT{replace all text}
\zR{648}{5243.5}{segment}\zR{648}{5270.5}{replacement}
\zB{cLi}{666}{5176}{813}{5230}\zS{666}{5189.5}\zT{select list item\ \ list}\zR{795}{5216.5}{index}
\zB{cV}{813}{5176}{1047}{5203}\zS{813}{5189.5}\zM\zT{get}\zF{cVf}{global MedicineDates}
\zB{cV}{813}{5203}{930}{5230}\zGet{813}{5216.5}{number}
\zB{cT}{666}{5230}{721}{5257}\zStr{666}{5243.5}{(}
\zB{cT}{666}{5257}{721}{5284}\zStrE{666}{5270.5}
\zB{cT}{543}{5284}{597}{5311}\zStr{543}{5297.5}{)}
\zB{cT}{543}{5311}{597}{5338}\zStrE{543}{5324.5}
\zB{cT}{420}{5338}{482}{5365}\zStr{420}{5351.5}{\textbackslash n}
\zB{cV}{0}{5427}{303}{5455}\zB{cT}{303}{5427}{357}{5455}
\zS{0}{5441}\zT{initialize global}\zP{cVf}{MedicineNameAllergia}\zT{to}\zStrE{303}{5441}
% ===== BtnAggiungiAllergia.Click =====
\zC{cE}{0}{5478}{260}{5505}{38}{6124}{260}{6135}
\zS{0}{5491.5}\zT{when}\zF{cEf}{BtnAggiungiAllergia}\zT{.Click}
\zS{0}{5519}\zT{do}
\zB{cV}{38}{5505}{324}{5533}\zB{cT}{324}{5505}{378}{5533}\zB{cC}{378}{5505}{610}{5533}
\zSetG{38}{5519}{global MedicineNameAllergia}\zS{324}{5519}\zT{trim}\zCmp{378}{5519}{TxtMedicinaAllergia}{Text}
\zB{cE}{38}{5533}{117}{6122}
\zS{38}{5546.5}\zG\zT{if}
\zB{cL}{117}{5533}{167}{5560}\zS{117}{5546.5}\zT{not}
\zB{cT}{167}{5533}{250}{5560}\zS{167}{5546.5}\zT{is empty}
\zB{cV}{250}{5533}{507}{5560}\zGet{250}{5546.5}{global MedicineNameAllergia}
\zS{38}{5573.5}\zT{then}
\zB{cLi}{87}{5560}{277}{5614}\zS{87}{5573.5}\zG\zT{add items to list\ \ list}\zR{259}{5600.5}{item}
\zB{cV}{277}{5560}{533}{5587}\zGet{277}{5573.5}{global MedicineDatesAllergia}
\zB{cLi}{277}{5587}{444}{5614}\zS{277}{5600.5}\zT{list from csv row\ \ text}
\zB{cV}{444}{5587}{701}{5614}\zGet{444}{5600.5}{global MedicineNameAllergia}
\zB{cS}{87}{5614}{386}{5641}\zB{cT}{386}{5614}{441}{5641}
\zSetP{87}{5627.5}{TxtMedicinaAllergia}{Text}\zStrE{386}{5627.5}
\zB{cS}{87}{5641}{440}{5668}\zB{cV}{440}{5641}{697}{5668}
\zSetP{87}{5654.5}{LspMedicineAllergiche}{Elements}\zGet{440}{5654.5}{global MedicineDatesAllergia}
\zC{cV}{87}{5668}{388}{5695}{120}{5908}{387}{5920}
\zB{cLi}{388}{5668}{542}{5695}
\zS{87}{5681.5}\zG\zT{initialize local}\zP{cVf}{lvMedicinesAllergia}\zT{to}
\zS{388}{5681.5}\zG\zT{create empty list}
\zS{87}{5708.5}\zT{in}
\zC{cE}{120}{5695}{283}{5722}{157}{5803}{282}{5815}
\zS{120}{5708.5}\zT{for each}\zP{cEf}{item}\zT{in list}
\zB{cV}{283}{5695}{538}{5722}\zGet{283}{5708.5}{global MedicineDatesAllergia}
\zS{120}{5735.5}\zT{do}
\zB{cLi}{157}{5722}{347}{5803}\zS{157}{5735.5}\zG\zT{add items to list\ \ list}\zR{329}{5762.5}{item}
\zB{cV}{347}{5722}{540}{5749}\zGet{347}{5735.5}{lvMedicinesAllergia}
\zB{cLi}{347}{5749}{494}{5803}\zS{347}{5762.5}\zT{select list item\ \ list}\zR{476}{5789.5}{index}
\zB{cV}{494}{5749}{589}{5776}\zGet{494}{5762.5}{item}
\zB{cM}{494}{5776}{522}{5803}\zNum{494}{5789.5}{1}
\zB{cS}{120}{5815}{473}{5843}\zB{cV}{473}{5815}{665}{5843}
\zSetP{120}{5829}{LspMedicineAllergiche}{Elements}\zGet{473}{5829}{lvMedicinesAllergia}
\zB{cS}{120}{5843}{447}{5880}\zB{cM}{447}{5843}{824}{5880}
\zSetP{120}{5856.5}{LblConteggioAllergenici}{Text}
\zS{447}{5861.5}\zG
\zB{cC}{489}{5848}{749}{5875}\zCmp{489}{5861.5}{LblConteggioAllergenici}{Text}
\zS{749}{5861.5}\zT{+}
\zB{cM}{778}{5848}{815}{5875}\zNum{776}{5861.5}{1}
\zB{cV}{120}{5880}{394}{5907}\zB{cC}{394}{5880}{653}{5907}
\zSetG{120}{5893.5}{global ConteggioAllergenici}\zCmp{394}{5893.5}{LblConteggioAllergenici}{Text}
\zB{cP}{87}{5920}{395}{5947}\zS{87}{5933.5}\zT{call}\zF{cPf}{TxtMedicinaAllergia}\node[tx] (last) at ([xshift=4pt]last.east) {.HideKeyboard};
\zStore{87}{5947}{MedicineAllergiaNostre}{510}{global MedicineDatesAllergia}{566}
\zStore{87}{6028}{ConteggioAllergenici}{494}{global ConteggioAllergenici}{554}
\end{tikzpicture}
\end{document}
